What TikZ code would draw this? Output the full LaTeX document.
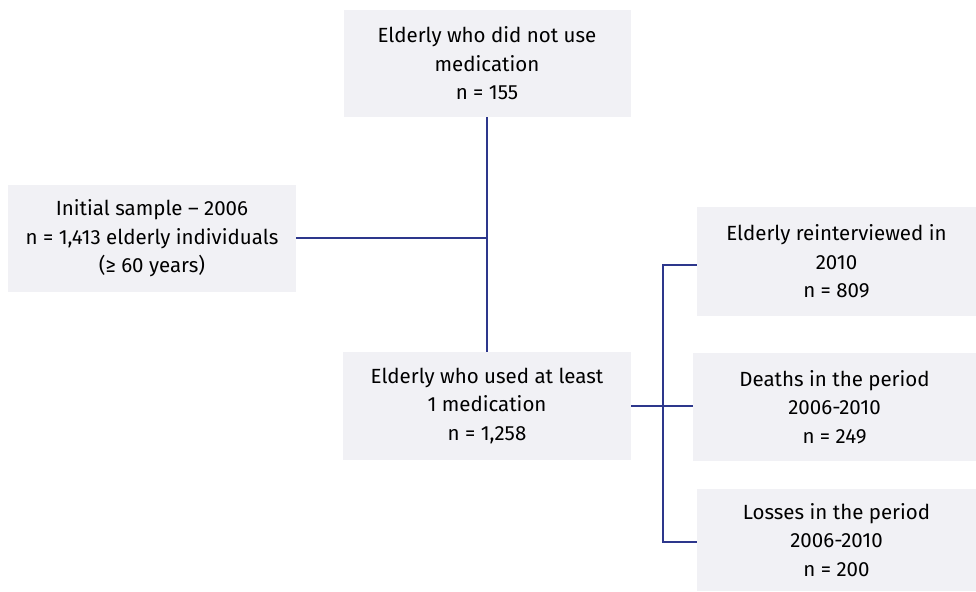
\documentclass[tikz,border=0pt]{standalone}
\usepackage{fontspec}
\setmainfont{Fira Sans}
\definecolor{boxfill}{RGB}{241,241,245}
\definecolor{linecol}{RGB}{45,55,140}
\begin{document}
\begin{tikzpicture}[x=1pt,y=-1pt,
  box/.style={fill=boxfill, draw=none, align=center, inner sep=0pt,
    font=\fontsize{20.5}{28.5}\selectfont},
  conn/.style={draw=linecol, line width=1.4pt}]
\useasboundingbox (0,0) rectangle (976,591);
\node[box, minimum width=287, minimum height=107] (top) at (487,63.5)
  {Elderly who did not use\\medication\\n = 155};
\node[box, minimum width=288, minimum height=107] (init) at (152,238.5)
  {Initial sample -- 2006\\n = 1,413 elderly individuals\\(≥ 60 years)};
\node[box, minimum width=288, minimum height=108] (mid) at (487,406)
  {Elderly who used at least\\1 medication\\n = 1,258};
\node[box, minimum width=279, minimum height=109] (r1) at (836.5,261.5)
  {Elderly reinterviewed in\\2010\\n = 809};
\node[box, minimum width=283, minimum height=108] (r2) at (834.5,407)
  {Deaths in the period\\2006-2010\\n = 249};
\node[box, minimum width=279, minimum height=102] (r3) at (836.5,540)
  {Losses in the period\\2006-2010\\n = 200};
\coordinate (j) at (487,238);
\coordinate (b) at (663,406);
\draw[conn] (top.south) -- (mid.north);
\draw[conn] (init.east |- j) -- (j);
\draw[conn] (mid.east |- b) -- (r2.west |- b);
\draw[conn] (r1.west |- 0,265) -| (b) |- (r3.west |- 0,542);
\end{tikzpicture}
\end{document}
